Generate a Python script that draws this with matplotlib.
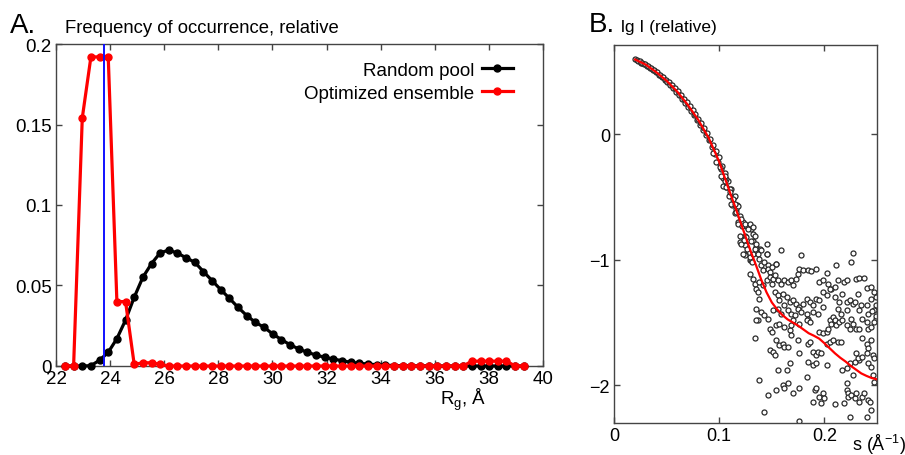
#!/usr/bin/env python3
import matplotlib
matplotlib.use('Agg')
import matplotlib.pyplot as plt

plt.rcParams['font.family'] = ['Liberation Sans', 'DejaVu Sans']
plt.rcParams['mathtext.default'] = 'regular'

# panel A: Rg histograms
rg = [22.33, 22.65, 22.97, 23.29, 23.61, 23.93, 24.25, 24.57, 24.89, 25.21,
      25.53, 25.85, 26.17, 26.49, 26.81, 27.13, 27.45, 27.77, 28.09, 28.41,
      28.73, 29.05, 29.37, 29.69, 30.01, 30.33, 30.65, 30.97, 31.29, 31.61,
      31.93, 32.25, 32.57, 32.89, 33.21, 33.53, 33.85, 34.17, 34.49, 34.81,
      35.13, 35.45, 35.77, 36.09, 36.41, 36.73, 37.05, 37.37, 37.69, 38.01,
      38.33, 38.65, 38.97, 39.29]
random_pool = [0, 0, 0, 0.0002, 0.0036, 0.0085, 0.017, 0.0285, 0.0427, 0.0551,
               0.0636, 0.0703, 0.072, 0.0701, 0.0672, 0.0644, 0.0586, 0.053, 0.0474, 0.042,
               0.0364, 0.0313, 0.0271, 0.024, 0.0199, 0.0164, 0.0132, 0.0106, 0.0085, 0.0068,
               0.0054, 0.0043, 0.0033, 0.0023, 0.0017, 0.0012, 0.0008, 0.0005, 0.0003, 0.0002,
               0.0001, 0.0001, 0.0001, 0, 0, 0, 0, 0, 0, 0,
               0, 0, 0, 0]
optimized = [0, 0, 0.154, 0.192, 0.192, 0.192, 0.040, 0.040, 0.001, 0.002,
             0.002, 0.001, 0, 0, 0, 0, 0, 0, 0, 0,
             0, 0, 0, 0, 0, 0, 0, 0, 0, 0,
             0, 0, 0, 0, 0, 0, 0, 0, 0, 0,
             0, 0, 0, 0, 0, 0, 0, 0.003, 0.003, 0.003,
             0.003, 0.003, 0, 0]
rg_mean = 23.77
a_yticks = [0, 0.05, 0.1, 0.15, 0.2]
a_ylabels = ['0', '0.05', '0.1', '0.15', '0.2']
a_xticks = [22, 24, 26, 28, 30, 32, 34, 36, 38, 40]

# panel B: experimental data (lg I) and fit
s_exp = [0.0200, 0.0214, 0.0228, 0.0242, 0.0256, 0.0270, 0.0284, 0.0298, 0.0312, 0.0326,
         0.0340, 0.0354, 0.0368, 0.0382, 0.0396, 0.0410, 0.0424, 0.0438, 0.0452, 0.0466,
         0.0480, 0.0494, 0.0508, 0.0522, 0.0536, 0.0550, 0.0564, 0.0578, 0.0592, 0.0606,
         0.0620, 0.0634, 0.0648, 0.0662, 0.0676, 0.0690, 0.0704, 0.0718, 0.0732, 0.0746,
         0.0760, 0.0774, 0.0788, 0.0802, 0.0816, 0.0830, 0.0844, 0.0858, 0.0872, 0.0886,
         0.0900, 0.0914, 0.0928, 0.0942, 0.0956, 0.0970, 0.0984, 0.0998, 0.1012, 0.1026,
         0.1040, 0.1054, 0.1068, 0.1082, 0.1096, 0.1110, 0.1124, 0.1138, 0.1152, 0.1166,
         0.1180,
         0.1036, 0.1068, 0.1099, 0.1147, 0.1163, 0.1194, 0.1226, 0.1257, 0.1242, 0.1305,
         0.1321, 0.1178, 0.1115, 0.1052, 0.1194, 0.1242, 0.1289, 0.1321, 0.1336, 0.1352,
         0.1384, 0.145, 0.146, 0.154, 0.1178, 0.122, 0.127,
         0.0941, 0.0973, 0.1005, 0.1020, 0.1052, 0.1068, 0.1099, 0.1131, 0.1147, 0.1163,
         0.1210, 0.1242, 0.1289, 0.1321, 0.1257, 0.1194, 0.1305, 0.1352, 0.1400, 0.1242,
         0.1450, 0.1242, 0.1305,
         0.121, 0.124, 0.123, 0.126, 0.129, 0.131, 0.132, 0.134, 0.135, 0.137,
         0.138, 0.140, 0.142, 0.143, 0.145, 0.146, 0.148, 0.150, 0.154, 0.159,
         0.178, 0.129, 0.132, 0.134, 0.135, 0.137, 0.138, 0.142, 0.145, 0.148,
         0.150, 0.151, 0.153, 0.156, 0.159, 0.162, 0.165, 0.168, 0.170, 0.173,
         0.175, 0.176, 0.180, 0.184, 0.187, 0.192, 0.195, 0.199, 0.202, 0.203,
         0.206, 0.210, 0.211, 0.213, 0.219, 0.221, 0.225, 0.227, 0.230, 0.233,
         0.238, 0.240, 0.244, 0.247,
         0.138, 0.153, 0.156, 0.157, 0.161, 0.164, 0.167, 0.170, 0.173, 0.176,
         0.180, 0.183, 0.186, 0.189, 0.192, 0.195, 0.199, 0.202, 0.205, 0.210,
         0.214, 0.217, 0.221, 0.224, 0.227, 0.229, 0.232, 0.235, 0.240, 0.244,
         0.249,
         0.135, 0.140, 0.137, 0.143, 0.146, 0.151, 0.156, 0.159, 0.162, 0.165,
         0.168, 0.172, 0.175, 0.178, 0.183, 0.184, 0.189, 0.194, 0.199, 0.205,
         0.208, 0.213, 0.216, 0.221, 0.225, 0.233, 0.236, 0.241, 0.247, 0.249,
         0.135, 0.148, 0.150, 0.154, 0.157, 0.162, 0.167, 0.168, 0.170, 0.176,
         0.183, 0.186, 0.195, 0.199, 0.202, 0.203, 0.206, 0.210, 0.211, 0.214,
         0.217, 0.221, 0.224, 0.227, 0.230, 0.233, 0.240, 0.241, 0.244, 0.247,
         0.134, 0.148, 0.151, 0.153, 0.154, 0.157, 0.161, 0.162, 0.165, 0.168,
         0.175, 0.184, 0.186, 0.189, 0.192, 0.194, 0.197, 0.202, 0.205, 0.208,
         0.213, 0.216, 0.230, 0.233, 0.236, 0.240, 0.241, 0.240, 0.244, 0.246,
         0.247,
         0.156, 0.164, 0.167, 0.176, 0.184, 0.189, 0.192, 0.202, 0.217, 0.221,
         0.224, 0.229, 0.232, 0.236, 0.241, 0.244, 0.246, 0.247, 0.227,
         0.138, 0.146, 0.154, 0.161, 0.162, 0.165, 0.170, 0.176, 0.183, 0.191,
         0.192, 0.195, 0.199, 0.189, 0.197, 0.200, 0.210, 0.219, 0.221, 0.221,
         0.222, 0.222, 0.225, 0.229, 0.230, 0.233, 0.236, 0.238, 0.241, 0.243,
         0.244, 0.143, 0.176, 0.224, 0.240, 0.2455, 0.249, 0.249]
lg_exp = [0.600, 0.592, 0.580, 0.581, 0.570, 0.569, 0.558, 0.560, 0.545, 0.541,
          0.528, 0.526, 0.510, 0.509, 0.493, 0.492, 0.473, 0.472, 0.455, 0.454,
          0.433, 0.434, 0.412, 0.413, 0.388, 0.388, 0.364, 0.366, 0.340, 0.342,
          0.310, 0.312, 0.280, 0.284, 0.250, 0.256, 0.219, 0.224, 0.184, 0.191,
          0.150, 0.158, 0.115, 0.125, 0.077, 0.086, 0.035, 0.047, -0.006, 0.008,
          -0.050, -0.035, -0.105, -0.085, -0.160, -0.135, -0.220, -0.185, -0.280, -0.250,
          -0.350, -0.310, -0.420, -0.375, -0.490, -0.440, -0.560, -0.500, -0.630, -0.560,
          -0.700,
          -0.410, -0.357, -0.437, -0.490, -0.595, -0.648, -0.700, -0.730, -0.807, -0.754,
          -0.847, -0.569, -0.556, -0.331, -0.807, -0.952, -1.005, -0.794, -0.807, -0.899,
          -0.913, -0.952, -1.040, -1.032, -0.714, -0.730, -0.754,
          -0.146, -0.225, -0.265, -0.331, -0.370, -0.423, -0.463, -0.516, -0.556, -0.622,
          -0.675, -0.714, -0.714, -0.741, -0.820, -0.860, -0.847, -0.940, -0.926, -0.886,
          -0.873, -0.966, -1.005,
          -0.873, -0.846, -0.952, -0.913, -0.979, -1.019, -0.952, -0.913, -0.873, -0.952,
          -0.992, -1.045, -1.085, -1.019, -0.952, -1.071, -1.098, -1.058, -1.032, -0.926,
          -0.966, -1.111, -1.151, -1.190, -1.230, -1.257, -1.177, -1.204, -1.164, -1.138,
          -1.190, -1.151, -1.124, -1.164, -1.190, -1.164, -1.177, -1.164, -1.204, -1.151,
          -1.111, -1.071, -1.085, -1.085, -1.090, -1.077, -1.177, -1.164, -1.103, -1.190,
          -1.230, -1.217, -1.040, -1.164, -1.177, -1.164, -1.019, -0.944, -1.151, -1.146,
          -1.146, -1.225, -1.217, -1.257,
          -1.310, -1.257, -1.283, -1.323, -1.270, -1.296, -1.336, -1.323, -1.349, -1.376,
          -1.349, -1.310, -1.336, -1.362, -1.310, -1.323, -1.257, -1.283, -1.230, -1.296,
          -1.336, -1.270, -1.336, -1.323, -1.349, -1.336, -1.270, -1.362, -1.362, -1.310,
          -1.296,
          -1.389, -1.415, -1.481, -1.442, -1.468, -1.402, -1.389, -1.429, -1.362, -1.402,
          -1.429, -1.442, -1.389, -1.415, -1.429, -1.468, -1.415, -1.429, -1.376, -1.481,
          -1.455, -1.389, -1.429, -1.402, -1.468, -1.402, -1.468, -1.429, -1.402, -1.468,
          -1.481, -1.548, -1.574, -1.521, -1.508, -1.534, -1.561, -1.521, -1.481, -1.508,
          -1.481, -1.495, -1.574, -1.587, -1.574, -1.548, -1.508, -1.481, -1.521, -1.495,
          -1.481, -1.521, -1.548, -1.508, -1.548, -1.548, -1.495, -1.548, -1.534, -1.495,
          -1.627, -1.720, -1.733, -1.759, -1.640, -1.680, -1.667, -1.693, -1.693, -1.601,
          -1.640, -1.667, -1.653, -1.733, -1.759, -1.733, -1.746, -1.667, -1.653, -1.640,
          -1.653, -1.653, -1.746, -1.799, -1.627, -1.667, -1.706, -1.746, -1.640, -1.759,
          -1.786,
          -1.878, -1.878, -1.825, -1.746, -1.812, -1.839, -1.825, -1.839, -1.878, -1.865,
          -1.825, -1.812, -1.786, -1.773, -1.825, -1.852, -1.918, -1.971, -1.918,
          -1.958, -2.077, -2.037, -1.997, -2.024, -1.984, -2.064, -2.024, -1.931, -2.037,
          -2.024, -2.090, -2.064, -2.130, -2.143, -2.103, -2.151, -2.143, -1.984, -2.037,
          -2.064, -2.090, -2.077, -2.103, -2.064, -2.130, -2.090, -2.064, -2.116, -2.130,
          -2.196, -2.209, -2.283, -2.249, -2.254, -1.405, -1.36, -1.45]
s_fit = [0.020, 0.030, 0.040, 0.050, 0.060, 0.070, 0.080, 0.090, 0.100, 0.105,
         0.110, 0.115, 0.120, 0.125, 0.130, 0.135, 0.140, 0.145, 0.150, 0.155,
         0.160, 0.165, 0.170, 0.175, 0.180, 0.185, 0.190, 0.195, 0.200, 0.205,
         0.210, 0.215, 0.220, 0.225, 0.230, 0.235, 0.240, 0.245, 0.250]
lg_fit = [0.595, 0.555, 0.495, 0.425, 0.340, 0.235, 0.115, -0.030, -0.220, -0.340,
          -0.460, -0.575, -0.695, -0.815, -0.935, -1.045, -1.160, -1.260, -1.340, -1.395,
          -1.440, -1.475, -1.500, -1.525, -1.555, -1.585, -1.605, -1.628, -1.665, -1.705,
          -1.745, -1.780, -1.810, -1.845, -1.875, -1.905, -1.925, -1.942, -1.952]
b_xticks = [0, 0.1, 0.2]
b_xlabels = ['0', '0.1', '0.2']
b_yticks = [0, -1, -2]
b_ylabels = ['0', '\u22121', '\u22122']

frame = '#444444'
fig = plt.figure(figsize=(9.05, 4.56), dpi=100)

axA = fig.add_axes([0.0619, 0.1952, 0.5381, 0.7061])
axA.plot(rg, random_pool, '-o', color='black', lw=2.3, ms=5, label='Random pool', clip_on=False, zorder=3)
axA.plot(rg, optimized, '-o', color='#ff0000', lw=2.3, ms=5, label='Optimized ensemble', clip_on=False, zorder=4)
axA.axvline(rg_mean, color='#1010ff', lw=1.4, zorder=5)
axA.set_xlim(22, 40)
axA.set_ylim(0, 0.2)
axA.set_xticks(a_xticks)
axA.set_yticks(a_yticks)
axA.set_yticklabels(a_ylabels)
axA.legend(loc='upper right', bbox_to_anchor=(0.938, 0.945), frameon=False, markerfirst=False,
           fontsize=13.5, handlelength=1.65, handletextpad=0.4, labelspacing=0.3,
           borderpad=0, borderaxespad=0)

axB = fig.add_axes([0.6785, 0.0702, 0.2906, 0.8288])
axB.scatter(s_exp, lg_exp, s=13, facecolors='white', edgecolors='#2a2a2a', linewidths=0.9, zorder=2)
axB.plot(s_fit, lg_fit, color='#ff0000', lw=1.6, zorder=3)
axB.set_xlim(0, 0.25)
axB.set_ylim(-2.3, 0.71)
axB.set_xticks(b_xticks)
axB.set_xticklabels(b_xlabels)
axB.set_yticks(b_yticks)
axB.set_yticklabels(b_ylabels)

for ax, fs in ((axA, 13.5), (axB, 13)):
    for sp in ax.spines.values():
        sp.set_color(frame)
        sp.set_linewidth(1.0)
    ax.tick_params(direction='in', top=True, right=True, length=4, width=1,
                   color=frame, labelsize=fs, pad=3)

fig.text(0.011, 0.928, 'A.', fontsize=20, va='baseline')
fig.text(0.0718, 0.928, 'Frequency of occurrence, relative', fontsize=13.3, va='baseline')
fig.text(0.537, 0.112, '$R_g$, \u00c5', fontsize=13.5, ha='right', va='baseline')
fig.text(0.650, 0.929, 'B.', fontsize=20, va='baseline')
fig.text(0.686, 0.930, 'lg I (relative)', fontsize=12.5, va='baseline')
fig.text(0.9414, 0.012, 's (\u00c5$^{\u22121}$)', fontsize=13, va='baseline')

fig.savefig('out.png', dpi=100)
